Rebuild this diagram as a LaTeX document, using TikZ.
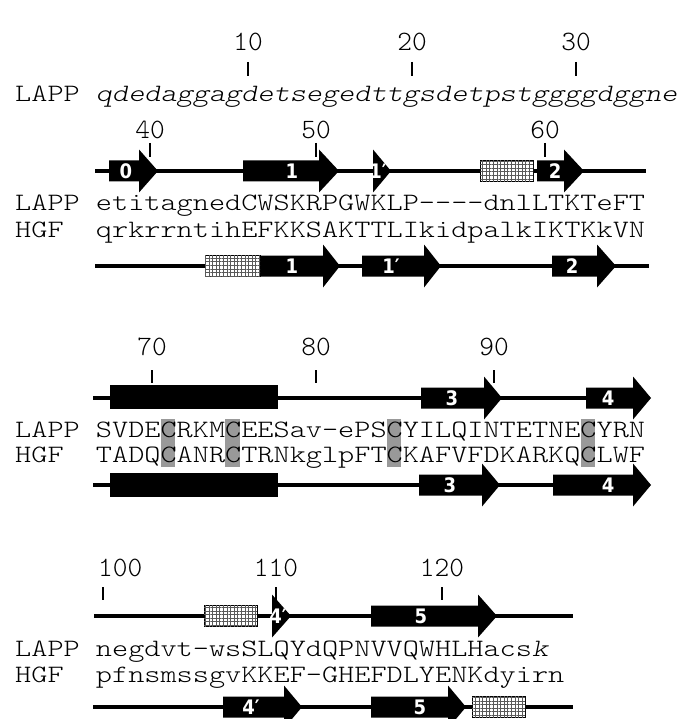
\documentclass[tikz,border=0pt]{standalone}
\usepackage{fontspec}
\usetikzlibrary{patterns.meta}
\newfontfamily\seqfont{lmmonolt10-regular.otf}[FakeStretch=1.2305]
\newfontfamily\seqit{lmmonolt10-oblique.otf}[FakeStretch=1.2305]
\newfontfamily\numfont{lmmonolt10-regular.otf}
\newfontfamily\lblfont{DejaVuSansCondensed-Bold.ttf}
\tikzset{
  seqtxt/.style={anchor=base west, inner sep=0pt, font=\seqfont\fontsize{25}{30}\selectfont},
  seqital/.style={anchor=base west, inner sep=0pt, font=\seqit\fontsize{25}{30}\selectfont},
  numtxt/.style={anchor=center, inner sep=0pt, font=\numfont\fontsize{28}{30}\selectfont},
  tickline/.style={line width=1.3pt},
  track/.style={line width=3.5pt},
  lbl/.style={text=white, inner sep=0pt, font=\lblfont\fontsize{20}{20}\selectfont},
  stipple/.style={draw=black, line width=0.8pt, fill=white,
    postaction={pattern={Hatch[angle=0,distance=3.6pt,line width=0.6pt]}, pattern color=black!65}},
  helixbox/.style={fill=black},
  cysbox/.style={fill=black!40, draw=none}
}
% strand arrow: x1 x2 x3 y label labelx name
\newcommand\bstrand[7]{%
  \fill (#1,#4-10.5) -- (#2,#4-10.5) -- (#2,#4-21.5) -- (#3,#4) -- (#2,#4+21.5) -- (#2,#4+10.5) -- (#1,#4+10.5) -- cycle;
  \node[lbl] (#7) at (#6,#4) {#5};}
% head only: x1 x2 y label labelx name
\newcommand\bhead[6]{%
  \fill (#1,#3-21.5) -- (#2,#3) -- (#1,#3+21.5) -- cycle;
  \node[lbl] (#6) at (#5,#3) {#4};}
% stippled box: x1 x2 y
\newcommand\stipbox[3]{\path[stipple] (#1,#3-10.5) rectangle (#2,#3+10.5);}
% tick: x ytop ybottom label ylabel name
\newcommand\rtick[6]{%
  \draw[tickline] (#1,#2) -- (#1,#3);
  \node[numtxt] (#6) at (#1,#5) {#4};}
\begin{document}
\begin{tikzpicture}[x=1pt,y=-1pt]
\useasboundingbox (0,0) rectangle (682,719);
\fill[white] (0,0) rectangle (682,719);

% ---------- block 1 ----------
\rtick{248}{62}{76}{10}{42}{n10}
\rtick{412}{62}{76}{20}{42}{n20}
\rtick{576}{62}{76}{30}{42}{n30}
\node[seqtxt] (l1) at (15,102) {LAPP};
\node[seqital] (s1) at (95.75,102) {qdedaggagdetsegedttgsdetpstggggdggne};

% ---------- block 2 ----------
\rtick{150}{143}{157}{40}{130}{n40}
\rtick{316}{143}{157}{50}{130}{n50}
\rtick{545}{143}{157}{60}{130}{n60}
\coordinate (t2a) at (95,171); \coordinate (t2b) at (646,171);
\draw[track] (t2a) -- (t2b);
\bstrand{109}{139}{158}{171}{0}{126}{b2a}
\bstrand{243}{319}{339}{171}{1}{292}{b2b}
\bhead{373}{391}{171}{1′}{378}{b2c}
\stipbox{480}{533}{171}
\bstrand{537}{564}{584}{171}{2}{555}{b2d}
\node[seqtxt] (l2) at (15,211) {LAPP};
\node[seqtxt] (s2) at (95.75,211) {etitagnedCWSKRPGWKLP----dnlLTKTeFT};
\node[seqtxt] (h2) at (15,237) {HGF};
\node[seqtxt] (g2) at (95.75,237) {qrkrrntihEFKKSAKTTLIkidpalkIKTKkVN};
\coordinate (u2a) at (95,266); \coordinate (u2b) at (649,266);
\draw[track] (u2a) -- (u2b);
\stipbox{205}{260}{266}
\bstrand{261}{323}{340}{266}{1}{292}{c2a}
\bstrand{362}{424}{441}{266}{1′}{391}{c2b}
\bstrand{552}{597}{616}{266}{2}{572}{c2c}

% ---------- block 3 ----------
\rtick{152}{370}{383}{70}{347}{n70}
\rtick{316}{370}{383}{80}{347}{n80}
\rtick{494}{370}{383}{90}{347}{n90}
\coordinate (t3a) at (93,398); \coordinate (t3b) at (640,398);
\draw[track] (t3a) -- (t3b);
\fill[helixbox] (110,385) rectangle (278,409);
\bstrand{421}{484}{502}{398}{3}{452}{b3a}
\bstrand{586}{633}{651}{398}{4}{608}{b3b}
\foreach \cx in {167.9,232.5,394,587.8}{\fill[cysbox] (\cx-7.3,419) rectangle (\cx+7.3,467);}
\node[seqtxt] (l3) at (15,437) {LAPP};
\node[seqtxt] (s3) at (95.75,437) {SVDECRKMCEESav-ePSCYILQINTETNECYRN};
\node[seqtxt] (h3) at (15,462) {HGF};
\node[seqtxt] (g3) at (95.75,462) {TADQCANRCTRNkglpFTCKAFVFDKARKQCLWF};
\coordinate (u3a) at (93,485); \coordinate (u3b) at (640,485);
\draw[track] (u3a) -- (u3b);
\fill[helixbox] (110,473) rectangle (278,497);
\bstrand{419}{482}{500}{485}{3}{450}{c3a}
\bstrand{553}{633}{651}{485}{4}{608}{c3b}

% ---------- block 4 ----------
\draw[tickline] (103,587) -- (103,600);
\node[numtxt, anchor=west] (n100) at (98,568) {100};
\rtick{276}{587}{600}{110}{568}{n110}
\rtick{442}{587}{600}{120}{568}{n120}
\coordinate (t4a) at (94,616); \coordinate (t4b) at (573,616);
\draw[track] (t4a) -- (t4b);
\stipbox{204}{257}{616}
\bhead{272}{291}{616}{4′}{278}{b4a}
\bstrand{371}{478}{497}{616}{5}{421}{b4b}
\node[seqtxt] (l4) at (15,656) {LAPP};
\node[seqtxt] (s4) at (95.75,656) {negdvt-wsSLQYdQPNVVQWHLHacs{\seqit k}};
\node[seqtxt] (h4) at (15,682) {HGF};
\node[seqtxt] (g4) at (95.75,682) {pfnsmssgvKKEF-GHEFDLYENKdyirn};
\coordinate (u4a) at (93,707); \coordinate (u4b) at (573,707);
\draw[track] (u4a) -- (u4b);
\bstrand{223}{284}{302}{707}{4′}{251}{c4a}
\bstrand{371}{448}{466}{707}{5}{420}{c4b}
\stipbox{472}{525}{707}
\end{tikzpicture}
\end{document}
